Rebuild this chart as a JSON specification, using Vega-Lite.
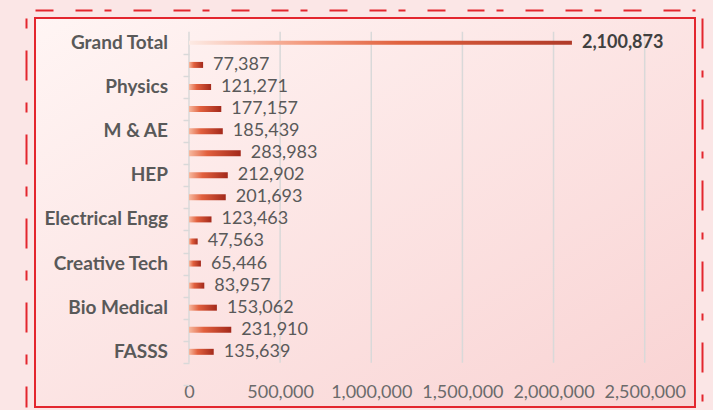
{
  "$schema": "https://vega.github.io/schema/vega-lite/v6.json",
  "width": 660,
  "height": 389,
  "autosize": {"type": "none"},
  "padding": {"left": 35, "top": 18, "right": 18, "bottom": 3},
  "background": "#fbe6e6",
  "config": {
    "view": {
      "fill": {"gradient": "linear", "x1": 0, "y1": 0, "x2": 1, "y2": 1, "stops": [{"offset": 0, "color": "#fff5f4"}, {"offset": 1, "color": "#f9d3d3"}]},
      "stroke": "#e3262e",
      "strokeWidth": 2
    },
    "font": "Lato"
  },
  "data": {"values": [
    {"id": 1, "dept": "Grand Total", "value": 2100873},
    {"id": 2, "dept": "", "value": 77387},
    {"id": 3, "dept": "Physics", "value": 121271},
    {"id": 4, "dept": "", "value": 177157},
    {"id": 5, "dept": "M & AE", "value": 185439},
    {"id": 6, "dept": "", "value": 283983},
    {"id": 7, "dept": "HEP", "value": 212902},
    {"id": 8, "dept": "", "value": 201693},
    {"id": 9, "dept": "Electrical Engg", "value": 123463},
    {"id": 10, "dept": "", "value": 47563},
    {"id": 11, "dept": "Creative Tech", "value": 65446},
    {"id": 12, "dept": "", "value": 83957},
    {"id": 13, "dept": "Bio Medical", "value": 153062},
    {"id": 14, "dept": "", "value": 231910},
    {"id": 15, "dept": "FASSS", "value": 135639}
  ]},
  "resolve": {"axis": {"x": "independent", "y": "independent"}},
  "layer": [
    {
      "data": {"values": [{"tick": 0}, {"tick": 500000}, {"tick": 1000000}, {"tick": 1500000}, {"tick": 2000000}, {"tick": 2500000}]},
      "mark": {"type": "rule", "color": "#d9d9d9", "strokeWidth": 1.5, "yOffset": -11, "y2Offset": 11},
      "encoding": {
        "x": {"field": "tick", "type": "quantitative",
              "scale": {"domain": [-844800, 2776000], "nice": false, "zero": false},
              "axis": {"orient": "top", "offset": 8, "labels": false, "ticks": false, "grid": false, "title": null,
                       "domainColor": "#e3262e", "domainWidth": 2, "domainDash": [18, 22, 17, 12, 7, 22]}},
        "y": {"datum": 1, "type": "ordinal",
              "axis": {"orient": "right", "offset": 7, "labels": false, "ticks": false, "grid": false, "title": null,
                       "domainColor": "#e3262e", "domainWidth": 2, "domainDash": [30, 22, 7, 22]}},
        "y2": {"datum": 15}
      }
    },
    {
      "transform": [{"filter": "datum.id != 1"}],
      "mark": {"type": "bar", "size": 6,
               "color": {"gradient": "linear", "x1": 0, "y1": 0, "x2": 1, "y2": 0,
                         "stops": [{"offset": 0, "color": "#f7b89e"}, {"offset": 0.35, "color": "#e2603e"}, {"offset": 1, "color": "#a3291b"}]}},
      "encoding": {
        "x": {"field": "value", "type": "quantitative",
              "axis": {"orient": "bottom", "values": [0, 500000, 1000000, 1500000, 2000000, 2500000], "format": ",d",
                       "offset": -24, "domain": false, "ticks": false, "tickSize": 0, "grid": false, "labelPadding": 0,
                       "labelFont": "Lato", "labelFontSize": 18, "labelColor": "#6b6b6b", "title": null}},
        "y": {"field": "id", "type": "ordinal",
              "scale": {"type": "band", "domain": [1, 2, 3, 4, 5, 6, 7, 8, 9, 10, 11, 12, 13, 14, 15, 16, 17], "paddingInner": 0, "paddingOuter": 0.313, "align": 1},
              "axis": {"orient": "left", "offset": -154, "labels": false, "domain": false, "grid": false, "title": null,
                       "ticks": true, "tickBand": "extent", "tickSize": 6, "tickWidth": 1.5,
                       "tickColor": {"condition": {"test": "datum.value <= 16", "value": "#d9d9d9"}, "value": "transparent"}}}
      }
    },
    {
      "transform": [{"filter": "datum.id == 1"}],
      "mark": {"type": "bar", "size": 4,
               "color": {"gradient": "linear", "x1": 0, "y1": 0, "x2": 1, "y2": 0,
                         "stops": [{"offset": 0, "color": "#fdeae4"}, {"offset": 0.3, "color": "#f39a7e"}, {"offset": 0.55, "color": "#e0623f"}, {"offset": 1, "color": "#b03a28"}]}},
      "encoding": {
        "x": {"field": "value", "type": "quantitative", "axis": null},
        "y": {"field": "id", "type": "ordinal", "axis": null}
      }
    },
    {
      "transform": [{"filter": "datum.id != 1"}],
      "mark": {"type": "text", "align": "left", "baseline": "middle", "dx": 10, "font": "Lato", "fontSize": 18, "color": "#595959"},
      "encoding": {
        "x": {"field": "value", "type": "quantitative", "axis": null},
        "y": {"field": "id", "type": "ordinal",
              "axis": {"orient": "left", "offset": 9, "labels": false, "ticks": false, "grid": false, "title": null,
                       "domainColor": "#e3262e", "domainWidth": 2, "domainDash": [10, 22, 30, 22]}},
        "text": {"field": "value", "type": "quantitative", "format": ",d"}
      }
    },
    {
      "transform": [{"filter": "datum.id == 1"}],
      "mark": {"type": "text", "align": "left", "baseline": "middle", "dx": 10, "font": "Lato", "fontSize": 18, "fontWeight": "bold", "color": "#404040"},
      "encoding": {
        "x": {"field": "value", "type": "quantitative", "axis": null},
        "y": {"field": "id", "type": "ordinal", "axis": null},
        "text": {"field": "value", "type": "quantitative", "format": ",d"}
      }
    },
    {
      "mark": {"type": "text", "align": "right", "baseline": "middle", "dx": -21, "font": "Lato", "fontSize": 19, "fontWeight": "bold", "color": "#595959"},
      "encoding": {
        "x": {"datum": 0, "type": "quantitative", "axis": null},
        "y": {"field": "id", "type": "ordinal", "axis": null},
        "text": {"field": "dept"}
      }
    }
  ]
}
